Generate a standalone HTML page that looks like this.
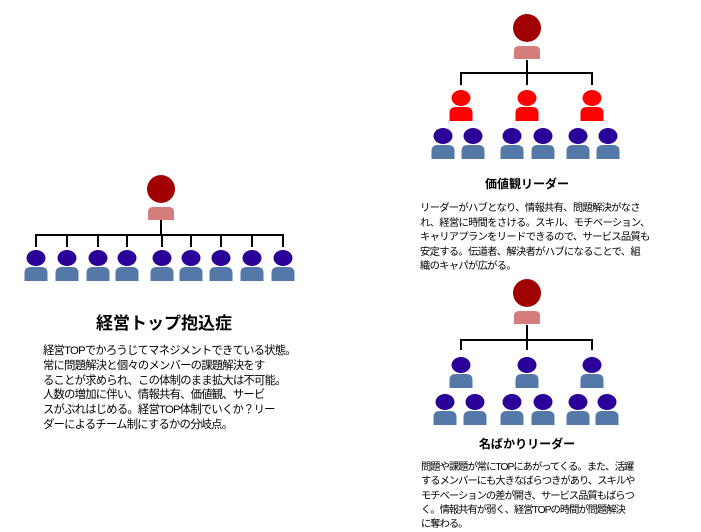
<!DOCTYPE html>
<html><head><meta charset="utf-8"><style>
html,body{margin:0;padding:0;background:#fff;width:701px;height:528px;overflow:hidden}
svg{position:absolute;left:0;top:0}
.t{position:absolute;font-family:"Liberation Sans","Noto Sans CJK JP",sans-serif;color:#000;white-space:nowrap}
</style></head><body>
<svg width="701" height="528" viewBox="0 0 701 528">
<defs>
<g id="m"><ellipse cx="0" cy="0" rx="9.5" ry="8" fill="#2a0099"/><path d="M-11.5,23 V15 Q-11.5,9 -5,9 H5 Q11.5,9 11.5,15 V23 Z" fill="#5479a8"/></g>
<g id="r"><ellipse cx="0" cy="0" rx="9.5" ry="8" fill="#ff0000"/><path d="M-11.5,23 V15 Q-11.5,9 -5,9 H5 Q11.5,9 11.5,15 V23 Z" fill="#ff0000"/></g>
<g id="b"><circle cx="0" cy="0" r="14" fill="#a00000"/><path d="M-13,31 V23 Q-13,18 -8,18 H8 Q13,18 13,23 V31 Z" fill="#d57c7c"/></g>
</defs>
<g stroke="#000" stroke-width="2" fill="none">
<path d="M161,220 V235 M36,247 V235 H283 V247 M67,235 V247 M98,235 V247 M127,235 V247 M162,235 V247 M191,235 V247 M221,235 V247 M252,235 V247"/>
<path d="M527,60 V85 M461,85 V73 H592 V85"/>
<path d="M527,325 V350 M461,350 V340 H592 V350"/>
</g>
<use href="#b" x="161" y="189"/>
<use href="#m" x="36" y="258"/><use href="#m" x="67" y="258"/><use href="#m" x="98" y="258"/><use href="#m" x="127" y="258"/><use href="#m" x="162" y="258"/><use href="#m" x="191" y="258"/><use href="#m" x="221" y="258"/><use href="#m" x="252" y="258"/><use href="#m" x="283" y="258"/>
<use href="#b" x="527" y="28"/>
<use href="#r" x="461" y="98"/><use href="#r" x="527" y="98"/><use href="#r" x="592" y="98"/>
<use href="#m" x="443" y="136"/><use href="#m" x="473" y="136"/><use href="#m" x="512" y="136"/><use href="#m" x="543" y="136"/><use href="#m" x="578" y="136"/><use href="#m" x="608" y="136"/>
<use href="#b" x="527" y="293"/>
<use href="#m" x="461" y="365"/><use href="#m" x="527" y="365"/><use href="#m" x="592" y="365"/>
<use href="#m" x="445" y="402"/><use href="#m" x="475" y="402"/><use href="#m" x="512" y="402"/><use href="#m" x="543" y="402"/><use href="#m" x="578" y="402"/><use href="#m" x="607" y="402"/>
</svg>
<div class="t" style="left:64px;top:309px;width:200px;text-align:center;font-size:17px;font-weight:bold">経営トップ抱込症</div>
<div class="t" style="left:43px;top:344px;font-size:11.3px;line-height:14.8px;letter-spacing:-0.75px">経営TOPでかろうじてマネジメントできている状態。<br>常に問題解決と個々のメンバーの課題解決をす<br>ることが求められ、この体制のまま拡大は不可能。<br>人数の増加に伴い、情報共有、価値観、サービ<br>スがぶれはじめる。経営TOP体制でいくか？リー<br>ダーによるチーム制にするかの分岐点。</div>
<div class="t" style="left:427px;top:175px;width:200px;text-align:center;font-size:12px;font-weight:bold">価値観リーダー</div>
<div class="t" style="left:420px;top:202px;font-size:10.3px;line-height:14.5px;letter-spacing:-0.7px">リーダーがハブとなり、情報共有、問題解決がなさ<br>れ、経営に時間をさける。スキル、モチベーション、<br>キャリアプランをリードできるので、サービス品質も<br>安定する。伝道者、解決者がハブになることで、組<br>織のキャパが広がる。</div>
<div class="t" style="left:427px;top:435px;width:200px;text-align:center;font-size:12px;font-weight:bold">名ばかりリーダー</div>
<div class="t" style="left:421px;top:461px;font-size:10.3px;line-height:14.3px;letter-spacing:-1px">問題や課題が常にTOPにあがってくる。また、活躍<br>するメンバーにも大きなばらつきがあり、スキルや<br>モチベーションの差が開き、サービス品質もばらつ<br>く。情報共有が弱く、経営TOPの時間が問題解決<br>に奪わる。</div>
</body></html>
